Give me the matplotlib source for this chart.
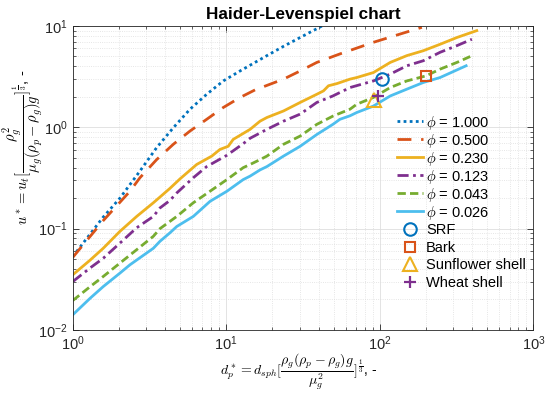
import matplotlib
matplotlib.use("Agg")
import matplotlib.pyplot as plt
from matplotlib.font_manager import FontProperties
from matplotlib.ticker import LogLocator, NullFormatter

plt.rcParams['font.family'] = ['Liberation Sans', 'DejaVu Sans']
plt.rcParams['mathtext.fontset'] = 'custom'
plt.rcParams['mathtext.rm'] = 'Liberation Sans'
plt.rcParams['mathtext.it'] = 'Liberation Sans:italic'

# ---- data ----
d_phi1000 = [1.0, 1.58, 2.03, 2.74, 3.52, 4.52, 5.81, 7.46, 9.57, 12.3, 14.3, 18.4, 23.6, 30.3, 42.0]
u_phi1000 = [0.053, 0.13, 0.20, 0.37, 0.63, 0.99, 1.51, 2.12, 2.87, 3.6, 4.1, 5.1, 6.3, 7.7, 10.0]

d_phi0500 = [1.0, 1.58, 2.36, 2.74, 3.52, 4.52, 5.81, 7.46, 9.57, 12.3, 15.4, 23.6, 30.3, 38.9, 55.0, 90.8, 188.0]
u_phi0500 = [0.052, 0.12, 0.234, 0.318, 0.48, 0.68, 0.92, 1.2, 1.57, 1.97, 2.34, 2.99, 3.6, 4.37, 5.3, 6.9, 9.7]

d_phi0230 = [1.0, 1.3, 1.58, 2.03, 2.61, 3.35, 3.7, 4.3, 5.0, 6.42, 8.05, 9.1, 10.3, 11.1, 14.3, 16.6, 18.4,
             23.6, 30.3, 38.9, 43.0, 46.3, 52.5, 64.0, 70.8, 90.8, 117.0, 150.0, 192.0, 247.0, 318.0, 428.0]
u_phi0230 = [0.035, 0.049, 0.064, 0.094, 0.132, 0.18, 0.205, 0.25, 0.31, 0.43, 0.52, 0.605, 0.65, 0.76, 0.955, 1.15, 1.25,
             1.45, 1.76, 2.12, 2.29, 2.57, 2.7, 2.99, 3.1, 3.47, 4.37, 5.1, 5.7, 6.6, 7.7, 9.0]

d_phi0123 = [1.0, 1.3, 1.58, 2.03, 2.61, 3.35, 3.7, 4.3, 4.76, 6.1, 7.46, 10.1, 12.9, 14.3, 18.4, 23.6, 30.3,
             38.9, 49.5, 64.0, 90.8, 117.0, 150.0, 192.0, 247.0, 318.0, 398.0]
u_phi0123 = [0.030, 0.041, 0.051, 0.072, 0.102, 0.132, 0.16, 0.19, 0.225, 0.318, 0.41, 0.53, 0.69, 0.78, 0.955, 1.15, 1.35,
             1.76, 2.04, 2.47, 2.87, 3.35, 4.05, 4.54, 5.5, 6.4, 7.4]

d_phi0043 = [1.0, 1.3, 1.58, 2.03, 2.61, 3.35, 3.7, 4.3, 4.76, 6.1, 7.84, 10.1, 12.9, 14.3, 16.6, 18.4, 23.6,
             30.3, 38.9, 49.5, 64.0, 70.8, 90.8, 117.0, 150.0, 200.0, 247.0, 318.0, 388.0]
u_phi0043 = [0.0195, 0.0268, 0.0337, 0.0457, 0.062, 0.084, 0.10, 0.118, 0.132, 0.18, 0.234, 0.305, 0.40, 0.43, 0.48, 0.52, 0.68,
             0.82, 1.07, 1.29, 1.51, 1.69, 1.97, 2.47, 2.87, 3.22, 3.75, 4.37, 5.0]

d_phi0026 = [1.0, 1.3, 1.58, 2.03, 2.36, 2.61, 3.35, 3.7, 4.3, 4.76, 6.1, 7.84, 10.1, 12.9, 14.3, 16.6, 18.4, 23.6,
             30.3, 38.9, 49.5, 55.0, 64.0, 70.8, 90.8, 117.0, 150.0, 192.0, 247.0, 365.0]
u_phi0026 = [0.0141, 0.0206, 0.0268, 0.0364, 0.044, 0.049, 0.064, 0.075, 0.091, 0.105, 0.132, 0.186, 0.234, 0.305, 0.33, 0.38, 0.41, 0.52,
             0.65, 0.85, 1.07, 1.2, 1.3, 1.4, 1.62, 2.04, 2.38, 2.77, 3.1, 4.05]

phi_labels = ['1.000', '0.500', '0.230', '0.123', '0.043', '0.026']

sample_names = ['SRF', 'Bark', 'Sunflower shell', 'Wheat shell']
sample_d = [103.0, 199.0, 92.0, 98.0]
sample_u = [3.03, 3.22, 1.84, 2.04]

# ---- styles ----
colors = ['#0072BD', '#D95319', '#EDB120', '#7E2F8E', '#77AC30', '#4DBEEE']
styles = [(0, (1, 1.2)), (0, (5, 3.5)), '-', (0, (4, 1.6, 1, 1.6)), (0, (3, 1.5)), '-']
curves = [(d_phi1000, u_phi1000), (d_phi0500, u_phi0500), (d_phi0230, u_phi0230),
          (d_phi0123, u_phi0123), (d_phi0043, u_phi0043), (d_phi0026, u_phi0026)]

fig = plt.figure(figsize=(5.5, 3.95), dpi=100)
ax = fig.add_axes([0.1322, 0.1646, 0.8375, 0.7696])

line_handles = []
for (dx, uy), c, ls, lab in zip(curves, colors, styles, phi_labels):
    h, = ax.plot(dx, uy, color=c, linestyle=ls, linewidth=2.0, label=r'$\phi$ = ' + lab)
    line_handles.append(h)

mk = ['o', 's', '^', '+']
mc = ['#0072BD', '#D95319', '#EDB120', '#7E2F8E']
ms = [9, 7, 10, 9]
mark_handles = []
for name, x, y, m, c, s in zip(sample_names, sample_d, sample_u, mk, mc, ms):
    if m == '+':
        h, = ax.plot([x], [y], linestyle='none', marker=m, color=c, markersize=s, markeredgewidth=1.6, label=name)
    else:
        h, = ax.plot([x], [y], linestyle='none', marker=m, markerfacecolor='none', markeredgecolor=c,
                     markersize=s, markeredgewidth=1.5, label=name)
    mark_handles.append(h)

ax.set_xscale('log')
ax.set_yscale('log')
ax.set_xlim(1, 1000)
ax.set_ylim(0.01, 10)

ax.xaxis.set_major_locator(LogLocator(base=10, numticks=10))
ax.yaxis.set_major_locator(LogLocator(base=10, numticks=10))
ax.xaxis.set_minor_locator(LogLocator(base=10, subs=range(2, 10), numticks=20))
ax.yaxis.set_minor_locator(LogLocator(base=10, subs=range(2, 10), numticks=20))
ax.xaxis.set_minor_formatter(NullFormatter())
ax.yaxis.set_minor_formatter(NullFormatter())

ax.grid(True, which='major', color='#DEDEDE', linestyle='-', linewidth=0.6)
ax.grid(True, which='minor', color='#DEDEDE', linestyle=':', linewidth=0.6)
ax.set_axisbelow(True)

ax.tick_params(which='both', direction='in', top=True, right=True, colors='#262626', labelsize=10.5)
ax.tick_params(which='major', length=4.5, width=0.6)
ax.tick_params(which='minor', length=2.5, width=0.5)
for sp in ax.spines.values():
    sp.set_color('#262626')
    sp.set_linewidth(0.6)

ax.set_title('Haider-Levenspiel chart', fontsize=12.3, fontweight='bold', pad=5)

ax.set_xlabel(r'$d_p^* = d_{sph}[\dfrac{\rho_g(\rho_p-\rho_g)g}{\mu_g^2}]^{\frac{1}{3}}$, -',
              fontsize=10, math_fontfamily='cm', va='center')
ax.xaxis.set_label_coords(0.49, -0.137)
ax.set_ylabel(r'$u^* = u_t[\dfrac{\rho_g^2}{\mu_g(\rho_p-\rho_g)g}]^{\frac{1}{3}}$, -',
              fontsize=10.5, math_fontfamily='cm', va='center')
ax.yaxis.set_label_coords(-0.108, 0.60)

lprop = FontProperties(family='Liberation Sans', size=10.5, math_fontfamily='cm')
leg1 = ax.legend(handles=line_handles, loc='upper left', bbox_to_anchor=(0.704, 0.712), frameon=False,
                 prop=lprop, handlelength=1.8, handletextpad=0.2, borderpad=0, labelspacing=0.0,
                 borderaxespad=0)
ax.add_artist(leg1)
leg2 = ax.legend(handles=mark_handles, loc='upper left', bbox_to_anchor=(0.704, 0.352), frameon=False,
                 prop=lprop, handlelength=1.8, handletextpad=0.2, borderpad=0, labelspacing=0.25,
                 borderaxespad=0)

fig.savefig('out.png', dpi=100)
